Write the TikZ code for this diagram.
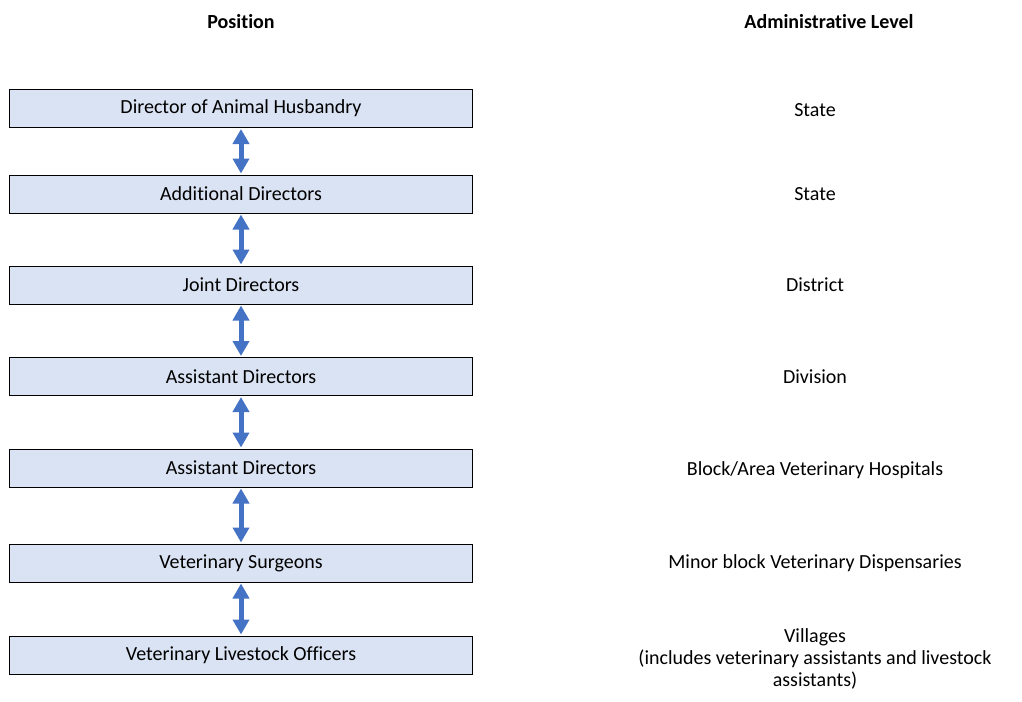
\documentclass[tikz,border=0pt]{standalone}
\usepackage{fontspec}
\setmainfont{Carlito}[Ligatures=NoCommon]
\usetikzlibrary{arrows.meta}
\definecolor{boxfill}{HTML}{DAE3F3}
\definecolor{linkblue}{HTML}{4472C4}

\begin{document}
\begin{tikzpicture}[x=1pt, y=-1pt,
  font=\fontsize{20}{22}\selectfont,
  posbox/.style={draw=black, line width=1pt, fill=boxfill, minimum width=463pt, minimum height=38pt, inner sep=0pt},
  lvl/.style={align=center},
  head/.style={font=\fontsize{20}{22}\selectfont\bfseries},
  link/.style={linkblue, line width=5pt, {Triangle[width=16pt,length=15pt]}-{Triangle[width=16pt,length=15pt]}, shorten <=1pt, shorten >=1pt}]
  \useasboundingbox (0,0) rectangle (1022,701);
  % column headings
  \node[head] (hpos) at (241,22) {Position};
  \node[head] (hlvl) at (829,22) {Administrative Level};
  % positions
  \node[posbox] (dah) at (241,108.5) {Director of Animal Husbandry};
  \node[posbox] (addl) at (241,194) {Additional Directors};
  \node[posbox] (joint) at (241,285) {Joint Directors};
  \node[posbox] (asstA) at (241,376.5) {Assistant Directors};
  \node[posbox] (asstB) at (241,468) {Assistant Directors};
  \node[posbox] (vsurg) at (241,563) {Veterinary Surgeons};
  \node[posbox] (vlo) at (241,655) {Veterinary Livestock Officers};
  % levels
  \node[lvl] (lstate) at (815,110) {State};
  \node[lvl] (lstateb) at (815,194) {State};
  \node[lvl] (ldist) at (815,285) {District};
  \node[lvl] (ldiv) at (815,377) {Division};
  \node[lvl] (lblock) at (815,470) {Block/Area Veterinary Hospitals};
  \node[lvl] (lminor) at (815,563) {Minor block Veterinary Dispensaries};
  \node[lvl] (lvill) at (815,659) {Villages\\(includes veterinary assistants and livestock\\assistants)};
  % two-way links
  \draw[link] (dah.south) -- (addl.north);
  \draw[link] (addl.south) -- (joint.north);
  \draw[link] (joint.south) -- (asstA.north);
  \draw[link] (asstA.south) -- (asstB.north);
  \draw[link] (asstB.south) -- (vsurg.north);
  \draw[link] (vsurg.south) -- (vlo.north);
\end{tikzpicture}
\end{document}
